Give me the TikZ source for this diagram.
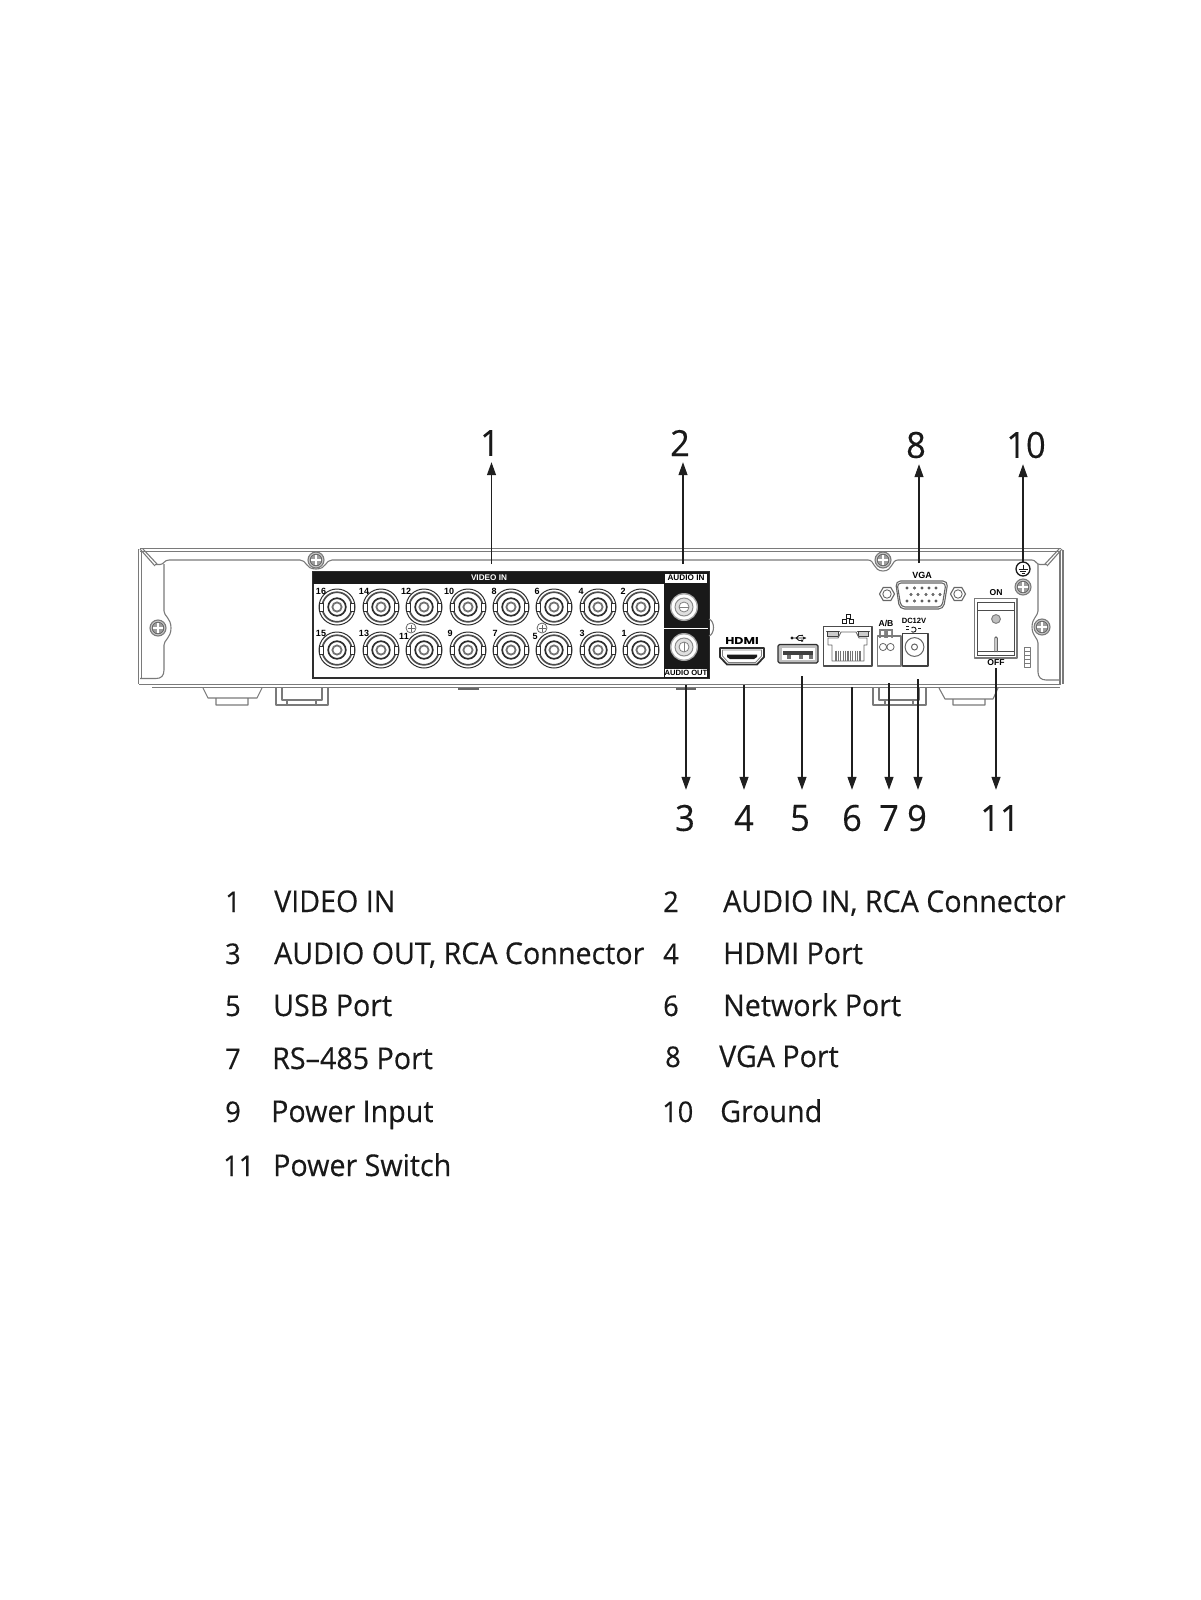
\documentclass[tikz,border=0pt]{standalone}
\usepackage{fontspec}
\setmainfont{Open Sans}[FakeStretch=0.955,FakeBold=0.35]
\newfontfamily\portfont{Liberation Sans}
\newfontfamily\hdmifont[FakeStretch=1.25]{Poppins}
\usetikzlibrary{arrows.meta}
\colorlet{hullgrey}{black!52}
\colorlet{portdark}{black!82}

\tikzset{
	screwhead/.pic={
		\draw[hullgrey,fill=black!22,line width=1.1] (0,0) circle (8);
		\draw[black!60,fill=black!38,line width=0.8] (0,0) circle (5.8);
		\draw[white,line width=1.8] (-4.6,0) -- (4.6,0) (0,-4.6) -- (0,4.6);
	},
	bncjack/.pic={
		\draw[portdark,line width=1] (0,0) circle (18);
		\draw[portdark!85,line width=1.7] (0,0) circle (14.8);
		\draw[portdark,fill=white,line width=0.7] (-17.2,-4) rectangle (-13.4,4);
		\draw[portdark,fill=white,line width=0.7] (13.4,-4) rectangle (17.2,4);
		\draw[portdark,line width=1.7] (0,0) circle (8.8);
		\draw[black!55,line width=1.8] (0,0) circle (4.6);
	},
	rcajack/.pic={
		\fill[black!35] (0,0) circle (14);
		\fill[white] (0,0) circle (12.6);
		\draw[black!45,fill=black!12,line width=1] (0,0) circle (9);
		\draw[black!50,fill=white,line width=0.8] (0,0) circle (5);
	}
}

\begin{document}
\begin{tikzpicture}[x=1pt,y=-1pt]
	\tikzstyle{callnum} = [inner sep=0,minimum height=38,font=\fontsize{36}{36}\selectfont,text=black!90]
	\tikzstyle{callarrow} = [black!88,line width=1.2,-{Triangle[length=13pt,width=9pt]}]
	\tikzstyle{listnum} = [inner sep=0,anchor=base west,font=\fontsize{28.5}{30}\selectfont,text=black!90]
	\tikzstyle{listtext} = [inner sep=0,anchor=base west,font=\fontsize{30}{32}\selectfont,text=black!90]
	\tikzstyle{hull} = [hullgrey,line width=1.1,line join=round]
	\tikzstyle{tag} = [inner sep=0,font=\portfont\bfseries\fontsize{8.2}{9}\selectfont]
	\tikzstyle{jacknum} = [inner sep=0,font=\portfont\bfseries\fontsize{9}{9}\selectfont]
	\tikzstyle{portline} = [portdark,line width=1.2,line join=round]

	\useasboundingbox (0,0) rectangle (1200,1600);

	% chassis
	\draw[hull,line width=1.4] (140,548.5) -- (1061,548.5) (140,551.5) -- (1061,551.5);
	\draw[hull,line width=1.4] (139,684.5) -- (1061,684.5) (152,687.5) -- (1060,687.5);
	\draw[hull] (138.5,549) -- (138.5,684) (141.5,551) -- (141.5,679);
	\draw[hull] (1063,550) -- (1063,684) (1060,552) -- (1060,684);
	\draw[hull] (140,549) -- (155,566) (143,549) -- (157,564);
	\draw[hull] (1062,549) -- (1047,566) (1059,549) -- (1045,564);
	\draw[hull] (155,564.5) -- (160,564.5) .. controls (164,564.5) and (164,560) .. (169,560)
		-- (300,560) .. controls (307,560) and (305,569) .. (316,569) .. controls (327,569) and (325,560) .. (332,560)
		-- (868,560) .. controls (875,560) and (873,571) .. (883,571) .. controls (893,571) and (891,560) .. (898,560)
		-- (1032,560) .. controls (1036,560) and (1036,564.5) .. (1040,564.5) -- (1047,564.5);
	\draw[hull] (164,564) -- (164,611) .. controls (164,616) and (171,618) .. (171,628) .. controls (171,638) and (164,640) .. (164,645)
		-- (164,670) .. controls (164,676) and (161,678.5) .. (156,678.5) -- (140,678.5);
	\draw[hull] (1038,564) -- (1038,611) .. controls (1038,616) and (1032,618) .. (1032,627) .. controls (1032,636) and (1038,638) .. (1038,643)
		-- (1038,672) .. controls (1038,677) and (1041,680) .. (1046,680) -- (1060,680);

	% feet
	\draw[hull] (203,688) -- (208,698) -- (257,698) -- (262,688) (216,698) -- (216,705) -- (248,705) -- (248,698);
	\draw[hull] (276,688) -- (276,705) -- (328,705) -- (328,688) (282,688) -- (282,700) -- (322,700) -- (322,688) (287,700) -- (287,705) (316,700) -- (316,705);
	\draw[hull] (873,688) -- (873,705) -- (926,705) -- (926,688) (879,688) -- (879,700) -- (919,700) -- (919,688) (885,700) -- (885,705) (913,700) -- (913,705);
	\draw[hull] (939,688) -- (945,699) -- (993,699) -- (998,688) (953,699) -- (953,705) -- (985,705) -- (985,699);
	\draw[black!60,line width=1.5] (458,689) -- (479,689) (676,689) -- (696,689);

	% screws
	\foreach \sx/\sy in {316/560,158/628,883/560,1023/587,1042/627}
		\pic at (\sx,\sy) {screwhead};

	% video panel
	\draw[portdark,line width=1.4] (313,572) rectangle (709,678);
	\fill[black!90] (313,572) rectangle (709,584);
	\fill[black!90] (664,572) rectangle (709,678);
	\draw[hull] (709,619) .. controls (715,621) and (715,634) .. (709,636);
	\draw[white,line width=0.9] (664,628) -- (708,628);
	\fill[white] (665,573.5) rectangle (707,582.5);
	\fill[white] (665,668.5) rectangle (707,677);
	\node[tag,text=white] (videoin) at (489,578) {VIDEO IN};
	\node[tag] (audioin) at (686,578) {AUDIO IN};
	\node[tag,font=\portfont\bfseries\fontsize{7.6}{9}\selectfont] (audioout) at (686,673) {AUDIO OUT};

	\foreach \jx in {337,381,424,468,511,554,598,641} {
		\pic at (\jx,607) {bncjack};
		\pic at (\jx,650) {bncjack};
	}
	\foreach \sx in {411,542} {
		\draw[black!60,fill=white,line width=0.8] (\sx,628) circle (5);
		\draw[black!60,line width=0.7] (\sx-3.5,628) -- (\sx+3.5,628) (\sx,624.5) -- (\sx,631.5);
	}
	\foreach \jn/\jx/\jy in {16/321/591,14/364/591,12/406/591,10/449/591,8/494/591,6/537/591,4/581/591,2/623/591,
		15/321/633,13/364/633,11/404/636,9/450/633,7/495/633,5/535/636,3/582/633,1/624/633}
		\node[jacknum] (jack\jn) at (\jx,\jy) {\jn};

	\pic at (684,607) {rcajack};
	\pic at (684,647) {rcajack};
	\draw[black!50,line width=0.9] (684,642) -- (684,652);
	\draw[black!50,line width=0.9] (679,607) -- (689,607);

	% hdmi
	\node[inner sep=0,font=\hdmifont\bfseries\fontsize{10}{11}\selectfont] (hdmilabel) at (742,641) {HDMI};
	\draw[portdark,line width=1.8,line join=round,fill=white] (720,648) -- (764,648) -- (764,657) -- (757,664.5) -- (727,664.5) -- (720,657) -- cycle;
	\draw[black!50,line width=0.8] (722.5,650) -- (761.5,650) -- (761.5,656) -- (755.5,662.5) -- (728.5,662.5) -- (722.5,656) -- cycle;
	\fill[black!90] (727,654.5) -- (757,654.5) -- (757,657) -- (754,659) -- (730,659) -- (727,657) -- cycle;

	% usb
	\draw[portline,fill=black!25,rounded corners=1.5] (778,644.5) rectangle (818,663);
	\fill[white] (781.5,647.5) rectangle (814.5,660);
	\fill[black!75] (783,651) rectangle (813,654.5);
	\foreach \tx in {787,799,809}
		\fill[black!55] (\tx,655) rectangle (\tx+4,659);
	\draw[black!90,line width=0.9] (792,638) -- (806,638) (796,638) -- (799,635.5) -- (802,635.5) (796,638) -- (799,640.5) -- (802,640.5);
	\fill[black!90] (792,638) circle (1.7) (806,638) -- (803,636.5) -- (803,639.5) -- cycle (802,635.5) circle (1) (801,639.5) rectangle (803,641.5);

	% network
	\foreach \bx/\by in {848/616,844.5/621,851.5/621}
		\draw[black!90,line width=1] (\bx-2,\by-2) rectangle (\bx+2,\by+2);
	\draw[portline,black!70,line width=1.5] (823.5,626.5) rectangle (872,666);
	\draw[black!60,line width=0.9] (826,631) -- (840,631) (857,631) -- (870,631);
	\draw[black!75,fill=black!20,line width=0.8] (827.5,631.5) rectangle (838,636);
	\draw[black!75,fill=black!20,line width=0.8] (858,631.5) rectangle (868,636);
	\draw[black!60,line width=0.9,line join=round] (828,638) -- (838,638) -- (841,632) -- (856,632) -- (859,638) -- (867,638) -- (867,645) -- (864,645) -- (864,661) -- (832,661) -- (832,645) -- (828,645) -- cycle;
	\foreach \px in {836,838.4,...,860}
		\draw[black!55,line width=1.3] (\px,650.5) -- (\px,661);

	% rs-485
	\node[tag,font=\portfont\bfseries\fontsize{8.6}{9}\selectfont] (ablabel) at (886,623) {A/B};
	\fill[black!50] (879,628.5) rectangle (893,638);
	\fill[white] (881,631) rectangle (884,638) (888,631) rectangle (891,638);
	\draw[hull] (877.5,636) rectangle (901,666);
	\draw[black!60,line width=0.8] (883,647) circle (3.6) (890.5,647) circle (3.6);

	% power input
	\node[tag,font=\portfont\bfseries\fontsize{7.6}{9}\selectfont] (dclabel) at (914,621) {DC12V};
	\draw[black!90,line width=0.9] (911.5,628) arc (40:320:-2.6);
	\draw[black!90,line width=0.9] (906,626.5) -- (909,626.5) (906,629.5) -- (909,629.5) (918,628) -- (921,628);
	\draw[portline,line width=1.7,black!75] (902.5,633.5) rectangle (928,666);
	\draw[black!60,line width=1] (914.5,647) circle (9.4);
	\draw[black!60,line width=1] (914.5,647) circle (3);

	% vga
	\node[tag,font=\portfont\bfseries\fontsize{9}{9}\selectfont] (vgalabel) at (922,575) {VGA};
	\draw[black!60,line width=1.1,rounded corners=4] (897,583) -- (946,583) -- (942,607) -- (901,607) -- cycle;
	\draw[black!60,line width=1.1,rounded corners=5] (895.5,581) -- (948,581) -- (943.5,609) -- (899.5,609) -- cycle;
	\foreach \hx in {887,958} {
		\draw[black!60,line width=1.1] (\hx-7.5,594) -- (\hx-3.8,587.5) -- (\hx+3.8,587.5) -- (\hx+7.5,594) -- (\hx+3.8,600.5) -- (\hx-3.8,600.5) -- cycle;
		\draw[black!60,line width=0.9] (\hx,594) circle (4.2);
	}
	\foreach \py in {588,601}
		\foreach \px in {907,914.5,922,929,936}
			\draw[black!70,line width=0.8] (\px,\py) circle (1.1);
	\foreach \px in {911,918,926,933,940}
		\draw[black!70,line width=0.8] (\px,594.5) circle (1.1);

	% power switch
	\node[tag,font=\portfont\bfseries\fontsize{8.6}{9}\selectfont] (onlabel) at (996,593) {ON};
	\node[tag,font=\portfont\bfseries\fontsize{8.6}{9}\selectfont] (offlabel) at (996,663) {OFF};
	\draw[hull,line width=1.3] (974.5,598.5) rectangle (1017,658);
	\draw[black!70,line width=1] (977.5,602.5) rectangle (1014,655.5);
	\draw[black!70,line width=1] (977.5,610) -- (1014,610) (977.5,651.5) -- (1014,651.5);
	\draw[black!50,fill=black!25,line width=1] (996,619) circle (4.4);
	\draw[black!60,line width=1.1,rounded corners=1] (994.8,652) -- (994.8,637) -- (997.2,637) -- (997.2,652);
	\draw[hull,line width=0.9] (1024.5,647) rectangle (1030,667);
	\foreach \gy in {651,655,659,663}
		\draw[hull,line width=0.9] (1024.5,\gy) -- (1030,\gy);

	% ground
	\draw[black!90,line width=1.3] (1023,569) circle (7);
	\draw[black!90,line width=1] (1023,564.5) -- (1023,569) (1018.5,569) -- (1027.5,569) (1020,571) -- (1026,571) (1021.5,573) -- (1024.5,573);

	% callouts
	\node[callnum] (call1) at (490,443) {1};
	\node[callnum] (call2) at (680,443) {2};
	\node[callnum] (call8) at (916,445) {8};
	\node[callnum] (call10) at (1026,445) {10};
	\node[callnum,minimum height=56] (call3) at (685,818) {3};
	\node[callnum,minimum height=56] (call4) at (744,818) {4};
	\node[callnum,minimum height=56] (call5) at (800,818) {5};
	\node[callnum,minimum height=56] (call6) at (852,818) {6};
	\node[callnum,minimum height=56] (call7) at (889,818) {7};
	\node[callnum,minimum height=56] (call9) at (917,818) {9};
	\node[callnum,minimum height=56] (call11) at (1000,818) {11};

	\coordinate (port1) at (491.5,564);
	\coordinate (port2) at (683,564);
	\coordinate (port8) at (919,563);
	\coordinate (port10) at (1023,562);
	\coordinate (port3) at (686,685);
	\coordinate (port4) at (744,685);
	\coordinate (port5) at (802,676);
	\coordinate (port6) at (852,687);
	\coordinate (port7) at (889,683);
	\coordinate (port9) at (918,679);
	\coordinate (port11) at (996,668);

	\foreach \c in {1,2,8,10}
		\path (port\c) edge[callarrow] (port\c |- call\c.south);
	\foreach \c in {3,4,5,6,7,9,11}
		\path (port\c) edge[callarrow] (port\c |- call\c.north);

	% legend
	\foreach \n/\nx/\tx/\by/\txt in {1/225/274/912/VIDEO IN,3/225/274/964/{AUDIO OUT, RCA Connector},5/225/273/1016/USB Port,
		7/225/272/1069/RS--485 Port,9/225/271/1122/Power Input,11/223/273/1176/Power Switch,
		2/663/723/912/{AUDIO IN, RCA Connector},4/663/723/964/HDMI Port,6/663/723/1016/Network Port,
		8/665/719/1067/VGA Port,10/662/720/1122/Ground} {
		\node[listnum] (num\n) at (\nx,\by) {\n};
		\node[listtext] (text\n) at (\tx,\by) {\txt};
	}
\end{tikzpicture}
\end{document}
